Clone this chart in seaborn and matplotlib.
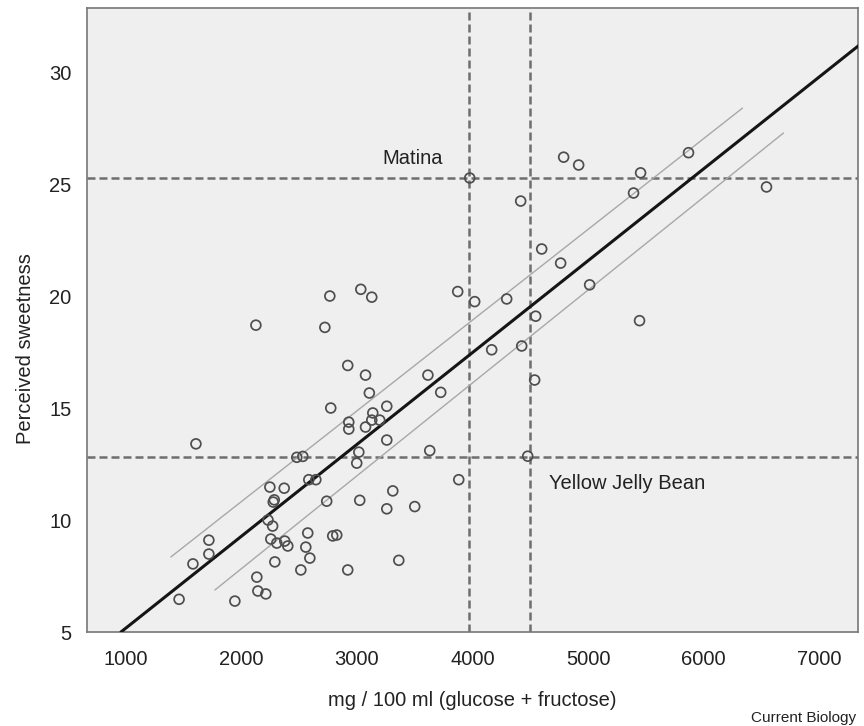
import matplotlib
matplotlib.use("Agg")
import matplotlib.pyplot as plt
import seaborn as sns
import pandas as pd

# ---- data ----
sugar = [2125, 2765, 3033, 3128, 2722, 3976, 4789, 4919, 5455, 5870,
         6545, 5394, 4417, 4599, 4763, 5014, 3872, 4019, 4296, 4547,
         5446, 4166, 4426, 4538, 3725, 3630, 4478, 3881, 1606, 2920,
         3074, 3107, 2773, 2929, 2929, 3074, 3137, 3128, 3197, 3258,
         3258, 3614, 2479, 2531, 3016, 2998, 2583, 2644, 2246, 2370,
         2284, 2275, 2738, 3024, 3310, 3258, 3500, 2230, 2270, 1718,
         1718, 1580, 1460, 2254, 2306, 2375, 2401, 2289, 2133, 2142,
         2211, 1943, 2514, 2574, 2557, 2592, 2790, 2825, 2920, 3362]
sweetness = [18.7, 20.0, 20.3, 19.95, 18.6, 25.27, 26.2, 25.85, 25.5, 26.4,
             24.87, 24.6, 24.24, 22.1, 21.47, 20.5, 20.2, 19.75, 19.87, 19.1,
             18.9, 17.6, 17.77, 16.25, 15.7, 13.1, 12.85, 11.8, 13.4, 16.9,
             16.47, 15.67, 15.0, 14.37, 14.06, 14.15, 14.78, 14.46, 14.46, 15.08,
             13.57, 16.47, 12.8, 12.84, 13.03, 12.54, 11.8, 11.8, 11.47, 11.42,
             10.9, 10.8, 10.84, 10.88, 11.3, 10.5, 10.6, 10.0, 9.73, 9.1,
             8.48, 8.04, 6.46, 9.15, 8.97, 9.06, 8.84, 8.13, 7.45, 6.83,
             6.7, 6.38, 7.77, 9.42, 8.79, 8.3, 9.29, 9.33, 7.77, 8.2]

fit_x = [957, 7340]
fit_y = [5.0, 31.17]
upper_x = [1389, 6337]
upper_y = [8.35, 28.39]
lower_x = [1770, 6692]
lower_y = [6.875, 27.28]

ref_x = [3970, 4500]
ref_y = [25.25, 12.8]

labels = ["Matina", "Yellow Jelly Bean"]
label_x = [3483, 4659]
label_y = [26.12, 11.65]

x_ticks = [1000, 2000, 3000, 4000, 5000, 6000, 7000]
y_ticks = [5, 10, 15, 20, 25, 30]

# ---- plot ----
sns.set_theme(style="white")
plt.rcParams['font.family'] = ['Liberation Sans', 'DejaVu Sans']

fig = plt.figure(figsize=(8.64, 7.26), dpi=100)
ax = fig.add_axes([87/864, 1-632/726, (858-87)/864, (632-8)/726])
ax.set_facecolor("#efeff0")

df = pd.DataFrame({"x": sugar, "y": sweetness})

dash = (0, (3.2, 1.6))
for xv in ref_x:
    ax.axvline(xv, color="#6e6e6e", lw=1.8, ls=dash, zorder=2)
for yv in ref_y:
    ax.axhline(yv, color="#6e6e6e", lw=1.8, ls=dash, zorder=2)

sns.lineplot(x=upper_x, y=upper_y, ax=ax, color="#a8a8a8", lw=1.0,
             estimator=None, sort=False, zorder=3)
sns.lineplot(x=lower_x, y=lower_y, ax=ax, color="#a8a8a8", lw=1.0,
             estimator=None, sort=False, zorder=3)
sns.lineplot(x=fit_x, y=fit_y, ax=ax, color="#151515", lw=2.2,
             estimator=None, sort=False, zorder=4)

sns.scatterplot(data=df, x="x", y="y", ax=ax, s=50, marker="o",
                facecolor="none", edgecolor="#4e4e4e", linewidth=1.25,
                zorder=5)

ax.text(label_x[0], label_y[0], labels[0], ha="center", va="center",
        fontsize=14.5, color="#222222")
ax.text(label_x[1], label_y[1], labels[1], ha="left", va="center",
        fontsize=14.5, color="#222222")

ax.set_xlim(663, 7337)
ax.set_ylim(5, 32.86)
ax.set_xticks(x_ticks)
ax.set_yticks(y_ticks)
ax.tick_params(axis="both", which="major", direction="out", length=7,
               width=1.1, color="#707070", labelsize=14.5,
               labelcolor="#222222")
ax.tick_params(axis="x", pad=6)
ax.tick_params(axis="y", pad=4)
for sp in ax.spines.values():
    sp.set_visible(True)
    sp.set_color("#777777")
    sp.set_linewidth(1.2)

ax.set_xlabel("mg / 100 ml (glucose + fructose)", fontsize=14.5,
              color="#222222")
ax.set_ylabel("Perceived sweetness", fontsize=14.5, color="#222222")
ax.xaxis.set_label_coords(0.5, -0.094)
ax.yaxis.set_label_coords(-0.068, 0.4535)

fig.text(856/864, 1-718/726, "Current Biology", ha="right", va="center",
         fontsize=11, color="#222222")

fig.savefig("out.png", dpi=100)
